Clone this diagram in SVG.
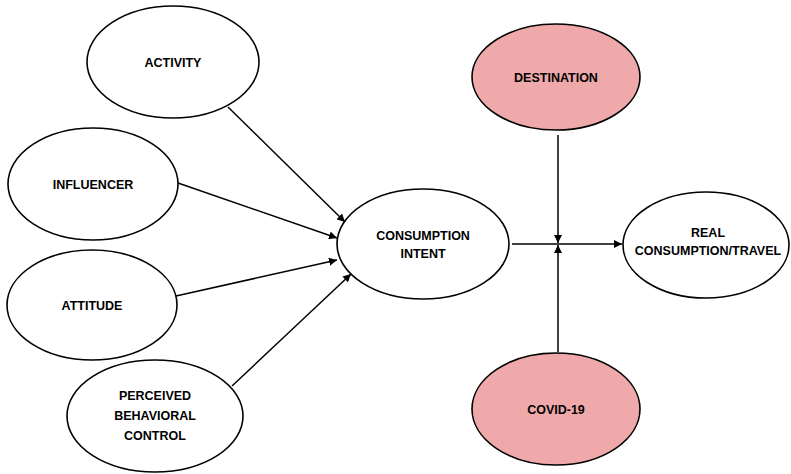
<svg xmlns="http://www.w3.org/2000/svg" width="791" height="474" viewBox="0 0 791 474">
<defs>
<marker id="ah" viewBox="0 0 10 10" refX="10" refY="5" markerWidth="8" markerHeight="8" markerUnits="userSpaceOnUse" orient="auto">
<path d="M0,0 L10,5 L0,10 z" fill="#000"/>
</marker>
<style>
.n{fill:#fff;stroke:#000;stroke-width:1.6}
.p{fill:#EFA9AA;stroke:#000;stroke-width:1.6}
.t{font-family:"Liberation Sans",Arial,sans-serif;font-weight:bold;font-size:12.5px;text-anchor:middle;fill:#000}
.c{stroke:#000;stroke-width:1.5;fill:none;marker-end:url(#ah)}
</style>
</defs>
<rect width="791" height="474" fill="#fff"/>
<g id="activity"><ellipse class="n" cx="173" cy="62" rx="86" ry="56"/><text class="t" x="173" y="67">ACTIVITY</text></g>
<g id="influencer"><ellipse class="n" cx="93" cy="184" rx="85" ry="56"/><text class="t" x="93" y="189">INFLUENCER</text></g>
<g id="attitude"><ellipse class="n" cx="92" cy="305" rx="85" ry="55"/><text class="t" x="92" y="310">ATTITUDE</text></g>
<g id="pbc"><ellipse class="n" cx="155" cy="416" rx="88" ry="56"/><text class="t" x="155" y="400">PERCEIVED</text><text class="t" x="155" y="420">BEHAVIORAL</text><text class="t" x="155" y="440">CONTROL</text></g>
<g id="intent"><ellipse class="n" cx="423" cy="244" rx="86" ry="55"/><text class="t" x="423" y="240">CONSUMPTION</text><text class="t" x="423" y="258">INTENT</text></g>
<g id="destination"><ellipse class="p" cx="556" cy="77" rx="84" ry="53"/><text class="t" x="556" y="82">DESTINATION</text></g>
<g id="covid"><ellipse class="p" cx="556" cy="409" rx="84" ry="56"/><text class="t" x="556" y="414">COVID-19</text></g>
<g id="real"><ellipse class="n" cx="706" cy="245" rx="83" ry="53"/><text class="t" x="708" y="237">REAL</text><text class="t" x="708" y="255">CONSUMPTION/TRAVEL</text></g>
<g id="connectors">
<line class="c" x1="228" y1="107" x2="345" y2="222"/>
<line class="c" x1="178" y1="183" x2="337" y2="238"/>
<line class="c" x1="176" y1="296" x2="337" y2="260"/>
<line class="c" x1="232" y1="386" x2="351" y2="274"/>
<line class="c" x1="512" y1="244" x2="622" y2="244"/>
<line class="c" x1="558" y1="135" x2="558" y2="243"/>
<line class="c" x1="558" y1="352" x2="558" y2="245"/>
</g>
</svg>
